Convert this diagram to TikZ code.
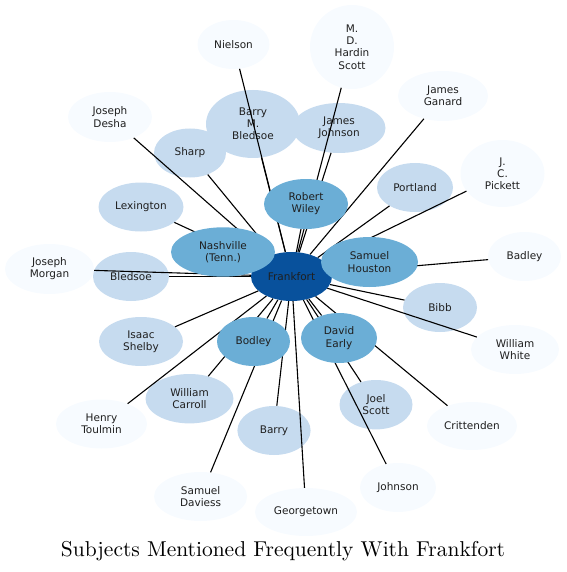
\documentclass[tikz,border=0pt]{standalone}
\usepackage{fontspec}
\usetikzlibrary{shapes.geometric}
\newfontfamily\dejavu{DejaVu Sans}
\newfontfamily\titlefont{lmroman10-regular}[Extension=.otf]
\definecolor{bvl}{HTML}{F7FBFF}
\definecolor{blt}{HTML}{C6DBEF}
\definecolor{bmd}{HTML}{6BAED6}
\definecolor{bdk}{HTML}{08519C}
\pgfdeclarelayer{bg}
\pgfdeclarelayer{edges}
\pgfdeclarelayer{hub}
\pgfsetlayers{bg,edges,hub,main}
\begin{document}
\begin{tikzpicture}[x=1pt,y=-1pt,
  nd/.style={ellipse,inner sep=0pt,font=\dejavu\fontsize{10.5}{12.2}\selectfont,align=center,text=black!88},
  vl/.style={nd,fill=bvl},
  lt/.style={nd,fill=blt},
  md/.style={nd,fill=bmd},
  hb/.style={nd,fill=bdk},
  sz/.style n args={2}{minimum width=#1pt*2,minimum height=#2pt*2},
  edge/.style={draw=black,line width=1.1pt}]
\useasboundingbox (0,0) rectangle (566,572);
\begin{pgfonlayer}{bg}
\node[vl,sz={36}{24.5}] (nielson) at (233.5,44.5) {Nielson};
\node[vl,sz={42}{42}] (mdhs) at (352,47) {M.\\D.\\Hardin\\Scott};
\node[vl,sz={45}{25}] (ganard) at (443,96) {James\\Ganard};
\node[vl,sz={42}{25}] (desha) at (110,117) {Joseph\\Desha};
\node[vl,sz={42}{33.5}] (pickett) at (502.5,173.5) {J.\\C.\\Pickett};
\node[vl,sz={36.5}{24.5}] (badley) at (524.5,256.5) {Badley};
\node[vl,sz={44.5}{25}] (morgan) at (49.5,269) {Joseph\\Morgan};
\node[vl,sz={44}{24.5}] (white) at (515,349.5) {William\\White};
\node[vl,sz={45.5}{24.5}] (toulmin) at (101.5,424) {Henry\\Toulmin};
\node[vl,sz={45}{24}] (crittenden) at (472,426) {Crittenden};
\node[vl,sz={38}{24.5}] (johnson) at (398,487.5) {Johnson};
\node[vl,sz={46.5}{24.5}] (daviess) at (200.6,496.5) {Samuel\\Daviess};
\node[vl,sz={51}{24}] (georgetown) at (306,512) {Georgetown};
\node[lt,sz={47}{34}] (bmb) at (253,124) {Barry\\M.\\Bledsoe};
\node[lt,sz={46.5}{25}] (jjohnson) at (339,128) {James\\Johnson};
\node[lt,sz={36}{24.5}] (sharp) at (190,153) {Sharp};
\node[lt,sz={42.5}{24.5}] (lexington) at (141,207) {Lexington};
\node[lt,sz={38}{24.5}] (bledsoe) at (131,276.5) {Bledsoe};
\node[lt,sz={38}{24.5}] (portland) at (415,187.5) {Portland};
\node[lt,sz={37}{24.5}] (bibb) at (440,307.5) {Bibb};
\node[lt,sz={42}{24.5}] (shelby) at (141,341.5) {Isaac\\Shelby};
\node[lt,sz={44}{24.7}] (carroll) at (189.5,398.7) {William\\Carroll};
\node[lt,sz={36.6}{24.5}] (barry) at (274,430.5) {Barry};
\node[lt,sz={36.5}{24.7}] (joel) at (376,404.7) {Joel\\Scott};
\end{pgfonlayer}
\begin{pgfonlayer}{hub}
\node[hb,sz={40.5}{24.5}] (frankfort) at (291.5,276.5) {Frankfort};
\end{pgfonlayer}
\node[md,sz={42}{25}] (wiley) at (306,204) {Robert\\Wiley};
\node[md,sz={52}{24.7}] (nashville) at (223,252) {Nashville\\(Tenn.)};
\node[md,sz={48.5}{25}] (houston) at (369.5,262) {Samuel\\Houston};
\node[md,sz={36.5}{24.5}] (bodley) at (253.5,341.5) {Bodley};
\node[md,sz={38}{25}] (early) at (339,338) {David\\Early};
\begin{pgfonlayer}{edges}
\foreach \t in {nielson,mdhs,ganard,desha,pickett,badley,morgan,white,toulmin,crittenden,johnson,daviess,georgetown,bmb,jjohnson,sharp,lexington,bledsoe,portland,bibb,shelby,carroll,barry,joel,wiley,nashville,houston,bodley,early}
  \draw[edge] (frankfort) -- (\t);
\end{pgfonlayer}
\node[font=\titlefont\fontsize{21.5}{25}\selectfont] (title) at (283,551) {Subjects Mentioned Frequently With Frankfort};
\end{tikzpicture}
\end{document}
